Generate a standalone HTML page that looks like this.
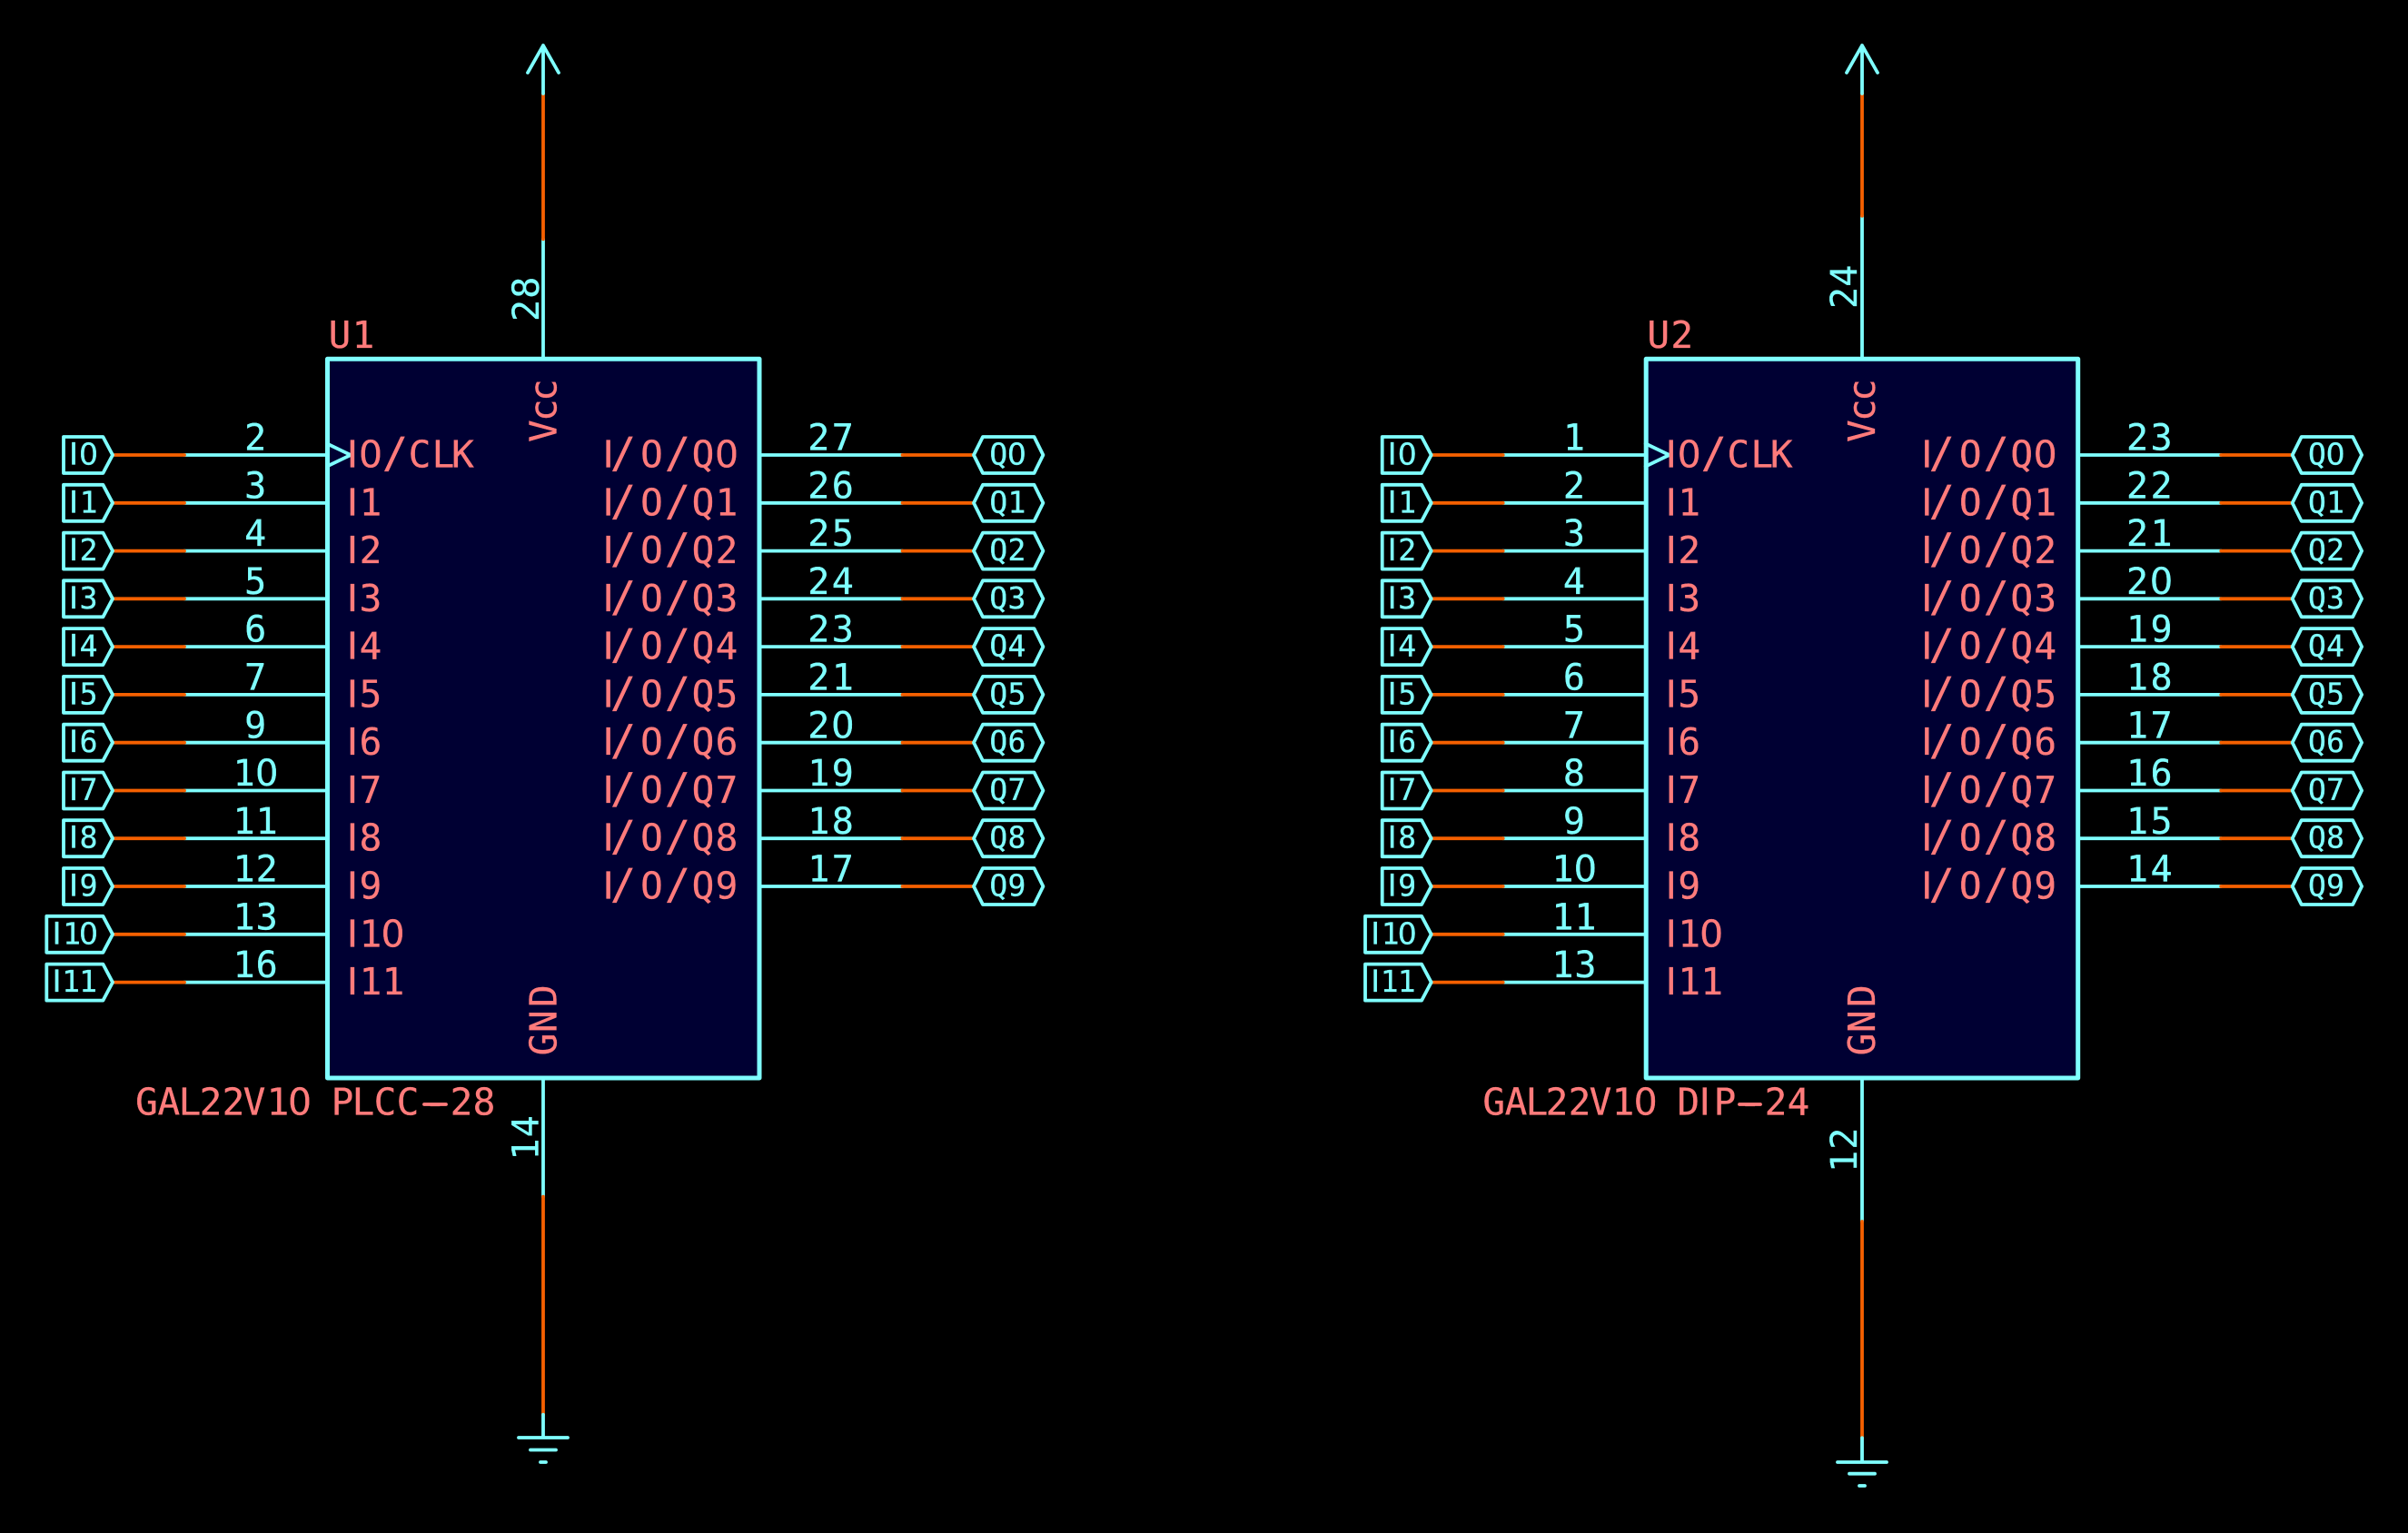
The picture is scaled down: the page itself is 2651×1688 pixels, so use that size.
<!DOCTYPE html>
<html><head><meta charset="utf-8"><title>GAL22V10</title>
<style>
html,body{margin:0;padding:0;background:#000}
svg{display:block}
.w{fill:none;stroke-width:3.8;stroke-linecap:round;stroke-linejoin:round}
.c{stroke:#7fffff}
.o{stroke:#f56000}
text{font-family:"DejaVu Sans Mono",monospace;text-anchor:middle}
.n{fill:#ff7b7b;font-size:41px;stroke:#ff7b7b;stroke-width:.3px}
.p{fill:#7fffff;font-size:40px;stroke:#7fffff;stroke-width:.3px}
.l{fill:#7fffff;font-size:33px;stroke:#7fffff;stroke-width:.3px}
.i{font-family:"Liberation Sans",sans-serif;font-size:1.07em}
.z{font-family:"DejaVu Sans",sans-serif}
.s{font-size:1.14em}
</style></head><body>
<svg xmlns="http://www.w3.org/2000/svg" width="2651" height="1688" viewBox="0 0 2651 1688">
<defs>
<g id="L"><path class="w c" d="M203 0H360"/><path class="w o" d="M124 0H203"/><path class="w c" d="M70 -20H113.4L124 0L113.4 20H70Z"/></g>
<g id="L2"><path class="w c" d="M203 0H360"/><path class="w o" d="M124 0H203"/><path class="w c" d="M51.3 -20H113.4L124 0L113.4 20H51.3Z"/></g>
<g id="R"><path class="w c" d="M836 0H993.5"/><path class="w o" d="M993.5 0H1072"/><path class="w c" d="M1072 0L1082 -20H1138.5L1148.4 0L1138.5 20H1082Z"/></g>
</defs>
<rect width="2651" height="1688" fill="#000"/>

<!-- U1 verticals -->
<path class="w c" d="M598 395V263.3"/><path class="w o" d="M598 263.3V103"/><path class="w c" d="M598 103V50M581 80L598 50L615 80"/>
<path class="w c" d="M598 1187V1317.7"/><path class="w o" d="M598 1317.7V1557.7"/><path class="w c" d="M598 1557.7V1583M571 1583H625M584 1596.5H612M595 1610H601"/>
<text class="p" transform="translate(593 0) rotate(-90)" x="-342 -316.7" y="0">28</text>
<text class="p" transform="translate(592.5 0) rotate(-90)" x="-1265.5 -1240.3" y="0">14</text>

<!-- U2 verticals -->
<path class="w c" d="M2050 395V237.7"/><path class="w o" d="M2050 237.7V103"/><path class="w c" d="M2050 103V50M2033 80L2050 50L2067 80"/>
<path class="w c" d="M2050 1187V1345"/><path class="w o" d="M2050 1345V1583.3"/><path class="w c" d="M2050 1583.3V1610M2023 1610H2077M2036 1622.7H2064M2047 1636H2053"/>
<text class="p" transform="translate(2044 0) rotate(-90)" x="-328 -303.7" y="0">24</text>
<text class="p" transform="translate(2044 0) rotate(-90)" x="-1278.8 -1253.7" y="0">12</text>

<!-- U1 -->
<g>
<rect x="360.5" y="395.3" width="475.5" height="791.7" fill="#000033" stroke="#7fffff" stroke-width="5" stroke-linejoin="round"/>
<text class="n" x="374 400" y="383">U1</text>
<text class="n" y="1227.5"><tspan x="161.5 185.8 209 232 257 280 306">GAL22V1</tspan><tspan class="z" x="330">0</tspan><tspan x="350 377 400 424 449 479 508 533"> PLCC-28</tspan></text>
<path class="w" stroke="#ff7b7b" d="M467 1216H491"/>
<text class="n" transform="translate(612.5 0) rotate(-90)" x="-474.7 -451.6 -429.5" y="0">Vcc</text>
<text class="n" transform="translate(612.5 0) rotate(-90)" x="-1150 -1124.7 -1096.7" y="0">GND</text>
<path class="w c" d="M360 488.5L386 501L360 513.5"/>

<g transform="translate(0 501)"><use href="#L"/><text class="l" y="10.5"><tspan class="i" x="81">I</tspan><tspan class="z" x="97.5">0</tspan></text><text class="p" x="281.2" y="-5.4">2</text><text class="n" y="13.5"><tspan class="i" x="388">I</tspan><tspan class="z" x="408">0</tspan><tspan class="s" x="435">/</tspan><tspan x="462 488 509.5">CLK</tspan></text></g>
<g transform="translate(0 553.8)"><use href="#L"/><text class="l" y="10.5"><tspan class="i" x="81">I</tspan><tspan x="97.5">1</tspan></text><text class="p" x="281.2" y="-5.4">3</text><text class="n" y="13.5"><tspan class="i" x="388">I</tspan><tspan x="408">1</tspan></text></g>
<g transform="translate(0 606.6)"><use href="#L"/><text class="l" y="10.5"><tspan class="i" x="81">I</tspan><tspan x="97.5">2</tspan></text><text class="p" x="281.2" y="-5.4">4</text><text class="n" y="13.5"><tspan class="i" x="388">I</tspan><tspan x="408">2</tspan></text></g>
<g transform="translate(0 659.3)"><use href="#L"/><text class="l" y="10.5"><tspan class="i" x="81">I</tspan><tspan x="97.5">3</tspan></text><text class="p" x="281.2" y="-5.4">5</text><text class="n" y="13.5"><tspan class="i" x="388">I</tspan><tspan x="408">3</tspan></text></g>
<g transform="translate(0 712.1)"><use href="#L"/><text class="l" y="10.5"><tspan class="i" x="81">I</tspan><tspan x="97.5">4</tspan></text><text class="p" x="281.2" y="-5.4">6</text><text class="n" y="13.5"><tspan class="i" x="388">I</tspan><tspan x="408">4</tspan></text></g>
<g transform="translate(0 764.9)"><use href="#L"/><text class="l" y="10.5"><tspan class="i" x="81">I</tspan><tspan x="97.5">5</tspan></text><text class="p" x="281.2" y="-5.4">7</text><text class="n" y="13.5"><tspan class="i" x="388">I</tspan><tspan x="408">5</tspan></text></g>
<g transform="translate(0 817.7)"><use href="#L"/><text class="l" y="10.5"><tspan class="i" x="81">I</tspan><tspan x="97.5">6</tspan></text><text class="p" x="281.2" y="-5.4">9</text><text class="n" y="13.5"><tspan class="i" x="388">I</tspan><tspan x="408">6</tspan></text></g>
<g transform="translate(0 870.5)"><use href="#L"/><text class="l" y="10.5"><tspan class="i" x="81">I</tspan><tspan x="97.5">7</tspan></text><text class="p" y="-5.4"><tspan x="268.7">1</tspan><tspan class="z" x="293.7">0</tspan></text><text class="n" y="13.5"><tspan class="i" x="388">I</tspan><tspan x="408">7</tspan></text></g>
<g transform="translate(0 923.2)"><use href="#L"/><text class="l" y="10.5"><tspan class="i" x="81">I</tspan><tspan x="97.5">8</tspan></text><text class="p" x="268.7 293.7" y="-5.4">11</text><text class="n" y="13.5"><tspan class="i" x="388">I</tspan><tspan x="408">8</tspan></text></g>
<g transform="translate(0 976)"><use href="#L"/><text class="l" y="10.5"><tspan class="i" x="81">I</tspan><tspan x="97.5">9</tspan></text><text class="p" x="268.7 293.7" y="-5.4">12</text><text class="n" y="13.5"><tspan class="i" x="388">I</tspan><tspan x="408">9</tspan></text></g>
<g transform="translate(0 1028.8)"><use href="#L2"/><text class="l" y="10.5"><tspan class="i" x="62.5">I</tspan><tspan x="79">1</tspan><tspan class="z" x="97.5">0</tspan></text><text class="p" x="268.7 293.7" y="-5.4">13</text><text class="n" y="13.5"><tspan class="i" x="388">I</tspan><tspan x="408">1</tspan><tspan class="z" x="432.5">0</tspan></text></g>
<g transform="translate(0 1081.6)"><use href="#L2"/><text class="l" y="10.5"><tspan class="i" x="62.5">I</tspan><tspan x="78 97">11</tspan></text><text class="p" x="268.7 293.7" y="-5.4">16</text><text class="n" y="13.5"><tspan class="i" x="388">I</tspan><tspan x="408 433">11</tspan></text></g>

<g transform="translate(0 501)"><use href="#R"/><text class="p" x="901.3 927.8" y="-5.4">27</text><text class="l" y="10.5"><tspan x="1099.3">Q</tspan><tspan class="z" x="1119.4">0</tspan></text><text class="n" y="13.5"><tspan class="i" x="669.6">I</tspan><tspan class="s" x="686">/</tspan><tspan x="717.5">O</tspan><tspan class="s" x="746">/</tspan><tspan x="774">Q</tspan><tspan class="z" x="800">0</tspan></text></g>
<g transform="translate(0 553.8)"><use href="#R"/><text class="p" x="901.3 927.8" y="-5.4">26</text><text class="l" x="1099.3 1119.4" y="10.5">Q1</text><text class="n" y="13.5"><tspan class="i" x="669.6">I</tspan><tspan class="s" x="686">/</tspan><tspan x="717.5">O</tspan><tspan class="s" x="746">/</tspan><tspan x="774 800">Q1</tspan></text></g>
<g transform="translate(0 606.6)"><use href="#R"/><text class="p" x="901.3 927.8" y="-5.4">25</text><text class="l" x="1099.3 1119.4" y="10.5">Q2</text><text class="n" y="13.5"><tspan class="i" x="669.6">I</tspan><tspan class="s" x="686">/</tspan><tspan x="717.5">O</tspan><tspan class="s" x="746">/</tspan><tspan x="774 800">Q2</tspan></text></g>
<g transform="translate(0 659.3)"><use href="#R"/><text class="p" x="901.3 927.8" y="-5.4">24</text><text class="l" x="1099.3 1119.4" y="10.5">Q3</text><text class="n" y="13.5"><tspan class="i" x="669.6">I</tspan><tspan class="s" x="686">/</tspan><tspan x="717.5">O</tspan><tspan class="s" x="746">/</tspan><tspan x="774 800">Q3</tspan></text></g>
<g transform="translate(0 712.1)"><use href="#R"/><text class="p" x="901.3 927.8" y="-5.4">23</text><text class="l" x="1099.3 1119.4" y="10.5">Q4</text><text class="n" y="13.5"><tspan class="i" x="669.6">I</tspan><tspan class="s" x="686">/</tspan><tspan x="717.5">O</tspan><tspan class="s" x="746">/</tspan><tspan x="774 800">Q4</tspan></text></g>
<g transform="translate(0 764.9)"><use href="#R"/><text class="p" x="901.3 927.8" y="-5.4">21</text><text class="l" x="1099.3 1119.4" y="10.5">Q5</text><text class="n" y="13.5"><tspan class="i" x="669.6">I</tspan><tspan class="s" x="686">/</tspan><tspan x="717.5">O</tspan><tspan class="s" x="746">/</tspan><tspan x="774 800">Q5</tspan></text></g>
<g transform="translate(0 817.7)"><use href="#R"/><text class="p" y="-5.4"><tspan x="901.3">2</tspan><tspan class="z" x="927.8">0</tspan></text><text class="l" x="1099.3 1119.4" y="10.5">Q6</text><text class="n" y="13.5"><tspan class="i" x="669.6">I</tspan><tspan class="s" x="686">/</tspan><tspan x="717.5">O</tspan><tspan class="s" x="746">/</tspan><tspan x="774 800">Q6</tspan></text></g>
<g transform="translate(0 870.5)"><use href="#R"/><text class="p" x="901.3 927.8" y="-5.4">19</text><text class="l" x="1099.3 1119.4" y="10.5">Q7</text><text class="n" y="13.5"><tspan class="i" x="669.6">I</tspan><tspan class="s" x="686">/</tspan><tspan x="717.5">O</tspan><tspan class="s" x="746">/</tspan><tspan x="774 800">Q7</tspan></text></g>
<g transform="translate(0 923.2)"><use href="#R"/><text class="p" x="901.3 927.8" y="-5.4">18</text><text class="l" x="1099.3 1119.4" y="10.5">Q8</text><text class="n" y="13.5"><tspan class="i" x="669.6">I</tspan><tspan class="s" x="686">/</tspan><tspan x="717.5">O</tspan><tspan class="s" x="746">/</tspan><tspan x="774 800">Q8</tspan></text></g>
<g transform="translate(0 976)"><use href="#R"/><text class="p" x="901.3 927.8" y="-5.4">17</text><text class="l" x="1099.3 1119.4" y="10.5">Q9</text><text class="n" y="13.5"><tspan class="i" x="669.6">I</tspan><tspan class="s" x="686">/</tspan><tspan x="717.5">O</tspan><tspan class="s" x="746">/</tspan><tspan x="774 800">Q9</tspan></text></g>
</g>

<!-- U2 label (absolute) -->
<text class="n" y="1227.5"><tspan x="1644.7 1669 1692 1714 1739 1762 1787">GAL22V1</tspan><tspan class="z" x="1811.7">0</tspan><tspan x="1835 1858.7">&#160;D</tspan><tspan class="i" x="1876.7">I</tspan><tspan x="1899 1926.7 1955 1980">P-24</tspan></text>
<path class="w" stroke="#ff7b7b" d="M1915 1216H1938"/>

<!-- U2 -->
<g transform="translate(1451.7 0)">
<rect x="360.5" y="395.3" width="475.5" height="791.7" fill="#000033" stroke="#7fffff" stroke-width="5" stroke-linejoin="round"/>
<text class="n" x="374 400" y="383">U2</text>
<text class="n" transform="translate(612.5 0) rotate(-90)" x="-474.7 -451.6 -429.5" y="0">Vcc</text>
<text class="n" transform="translate(612.5 0) rotate(-90)" x="-1150 -1124.7 -1096.7" y="0">GND</text>
<path class="w c" d="M360 488.5L386 501L360 513.5"/>

<g transform="translate(0 501)"><use href="#L"/><text class="l" y="10.5"><tspan class="i" x="81">I</tspan><tspan class="z" x="97.5">0</tspan></text><text class="p" x="281.2" y="-5.4">1</text><text class="n" y="13.5"><tspan class="i" x="388">I</tspan><tspan class="z" x="408">0</tspan><tspan class="s" x="435">/</tspan><tspan x="462 488 509.5">CLK</tspan></text></g>
<g transform="translate(0 553.8)"><use href="#L"/><text class="l" y="10.5"><tspan class="i" x="81">I</tspan><tspan x="97.5">1</tspan></text><text class="p" x="281.2" y="-5.4">2</text><text class="n" y="13.5"><tspan class="i" x="388">I</tspan><tspan x="408">1</tspan></text></g>
<g transform="translate(0 606.6)"><use href="#L"/><text class="l" y="10.5"><tspan class="i" x="81">I</tspan><tspan x="97.5">2</tspan></text><text class="p" x="281.2" y="-5.4">3</text><text class="n" y="13.5"><tspan class="i" x="388">I</tspan><tspan x="408">2</tspan></text></g>
<g transform="translate(0 659.3)"><use href="#L"/><text class="l" y="10.5"><tspan class="i" x="81">I</tspan><tspan x="97.5">3</tspan></text><text class="p" x="281.2" y="-5.4">4</text><text class="n" y="13.5"><tspan class="i" x="388">I</tspan><tspan x="408">3</tspan></text></g>
<g transform="translate(0 712.1)"><use href="#L"/><text class="l" y="10.5"><tspan class="i" x="81">I</tspan><tspan x="97.5">4</tspan></text><text class="p" x="281.2" y="-5.4">5</text><text class="n" y="13.5"><tspan class="i" x="388">I</tspan><tspan x="408">4</tspan></text></g>
<g transform="translate(0 764.9)"><use href="#L"/><text class="l" y="10.5"><tspan class="i" x="81">I</tspan><tspan x="97.5">5</tspan></text><text class="p" x="281.2" y="-5.4">6</text><text class="n" y="13.5"><tspan class="i" x="388">I</tspan><tspan x="408">5</tspan></text></g>
<g transform="translate(0 817.7)"><use href="#L"/><text class="l" y="10.5"><tspan class="i" x="81">I</tspan><tspan x="97.5">6</tspan></text><text class="p" x="281.2" y="-5.4">7</text><text class="n" y="13.5"><tspan class="i" x="388">I</tspan><tspan x="408">6</tspan></text></g>
<g transform="translate(0 870.5)"><use href="#L"/><text class="l" y="10.5"><tspan class="i" x="81">I</tspan><tspan x="97.5">7</tspan></text><text class="p" x="281.2" y="-5.4">8</text><text class="n" y="13.5"><tspan class="i" x="388">I</tspan><tspan x="408">7</tspan></text></g>
<g transform="translate(0 923.2)"><use href="#L"/><text class="l" y="10.5"><tspan class="i" x="81">I</tspan><tspan x="97.5">8</tspan></text><text class="p" x="281.2" y="-5.4">9</text><text class="n" y="13.5"><tspan class="i" x="388">I</tspan><tspan x="408">8</tspan></text></g>
<g transform="translate(0 976)"><use href="#L"/><text class="l" y="10.5"><tspan class="i" x="81">I</tspan><tspan x="97.5">9</tspan></text><text class="p" y="-5.4"><tspan x="268.7">1</tspan><tspan class="z" x="293.7">0</tspan></text><text class="n" y="13.5"><tspan class="i" x="388">I</tspan><tspan x="408">9</tspan></text></g>
<g transform="translate(0 1028.8)"><use href="#L2"/><text class="l" y="10.5"><tspan class="i" x="62.5">I</tspan><tspan x="79">1</tspan><tspan class="z" x="97.5">0</tspan></text><text class="p" x="268.7 293.7" y="-5.4">11</text><text class="n" y="13.5"><tspan class="i" x="388">I</tspan><tspan x="408">1</tspan><tspan class="z" x="432.5">0</tspan></text></g>
<g transform="translate(0 1081.6)"><use href="#L2"/><text class="l" y="10.5"><tspan class="i" x="62.5">I</tspan><tspan x="78 97">11</tspan></text><text class="p" x="268.7 293.7" y="-5.4">13</text><text class="n" y="13.5"><tspan class="i" x="388">I</tspan><tspan x="408 433">11</tspan></text></g>

<g transform="translate(0 501)"><use href="#R"/><text class="p" x="901.3 927.8" y="-5.4">23</text><text class="l" y="10.5"><tspan x="1099.3">Q</tspan><tspan class="z" x="1119.4">0</tspan></text><text class="n" y="13.5"><tspan class="i" x="669.6">I</tspan><tspan class="s" x="686">/</tspan><tspan x="717.5">O</tspan><tspan class="s" x="746">/</tspan><tspan x="774">Q</tspan><tspan class="z" x="800">0</tspan></text></g>
<g transform="translate(0 553.8)"><use href="#R"/><text class="p" x="901.3 927.8" y="-5.4">22</text><text class="l" x="1099.3 1119.4" y="10.5">Q1</text><text class="n" y="13.5"><tspan class="i" x="669.6">I</tspan><tspan class="s" x="686">/</tspan><tspan x="717.5">O</tspan><tspan class="s" x="746">/</tspan><tspan x="774 800">Q1</tspan></text></g>
<g transform="translate(0 606.6)"><use href="#R"/><text class="p" x="901.3 927.8" y="-5.4">21</text><text class="l" x="1099.3 1119.4" y="10.5">Q2</text><text class="n" y="13.5"><tspan class="i" x="669.6">I</tspan><tspan class="s" x="686">/</tspan><tspan x="717.5">O</tspan><tspan class="s" x="746">/</tspan><tspan x="774 800">Q2</tspan></text></g>
<g transform="translate(0 659.3)"><use href="#R"/><text class="p" y="-5.4"><tspan x="901.3">2</tspan><tspan class="z" x="927.8">0</tspan></text><text class="l" x="1099.3 1119.4" y="10.5">Q3</text><text class="n" y="13.5"><tspan class="i" x="669.6">I</tspan><tspan class="s" x="686">/</tspan><tspan x="717.5">O</tspan><tspan class="s" x="746">/</tspan><tspan x="774 800">Q3</tspan></text></g>
<g transform="translate(0 712.1)"><use href="#R"/><text class="p" x="901.3 927.8" y="-5.4">19</text><text class="l" x="1099.3 1119.4" y="10.5">Q4</text><text class="n" y="13.5"><tspan class="i" x="669.6">I</tspan><tspan class="s" x="686">/</tspan><tspan x="717.5">O</tspan><tspan class="s" x="746">/</tspan><tspan x="774 800">Q4</tspan></text></g>
<g transform="translate(0 764.9)"><use href="#R"/><text class="p" x="901.3 927.8" y="-5.4">18</text><text class="l" x="1099.3 1119.4" y="10.5">Q5</text><text class="n" y="13.5"><tspan class="i" x="669.6">I</tspan><tspan class="s" x="686">/</tspan><tspan x="717.5">O</tspan><tspan class="s" x="746">/</tspan><tspan x="774 800">Q5</tspan></text></g>
<g transform="translate(0 817.7)"><use href="#R"/><text class="p" x="901.3 927.8" y="-5.4">17</text><text class="l" x="1099.3 1119.4" y="10.5">Q6</text><text class="n" y="13.5"><tspan class="i" x="669.6">I</tspan><tspan class="s" x="686">/</tspan><tspan x="717.5">O</tspan><tspan class="s" x="746">/</tspan><tspan x="774 800">Q6</tspan></text></g>
<g transform="translate(0 870.5)"><use href="#R"/><text class="p" x="901.3 927.8" y="-5.4">16</text><text class="l" x="1099.3 1119.4" y="10.5">Q7</text><text class="n" y="13.5"><tspan class="i" x="669.6">I</tspan><tspan class="s" x="686">/</tspan><tspan x="717.5">O</tspan><tspan class="s" x="746">/</tspan><tspan x="774 800">Q7</tspan></text></g>
<g transform="translate(0 923.2)"><use href="#R"/><text class="p" x="901.3 927.8" y="-5.4">15</text><text class="l" x="1099.3 1119.4" y="10.5">Q8</text><text class="n" y="13.5"><tspan class="i" x="669.6">I</tspan><tspan class="s" x="686">/</tspan><tspan x="717.5">O</tspan><tspan class="s" x="746">/</tspan><tspan x="774 800">Q8</tspan></text></g>
<g transform="translate(0 976)"><use href="#R"/><text class="p" x="901.3 927.8" y="-5.4">14</text><text class="l" x="1099.3 1119.4" y="10.5">Q9</text><text class="n" y="13.5"><tspan class="i" x="669.6">I</tspan><tspan class="s" x="686">/</tspan><tspan x="717.5">O</tspan><tspan class="s" x="746">/</tspan><tspan x="774 800">Q9</tspan></text></g>
</g>
</svg>
</body></html>
